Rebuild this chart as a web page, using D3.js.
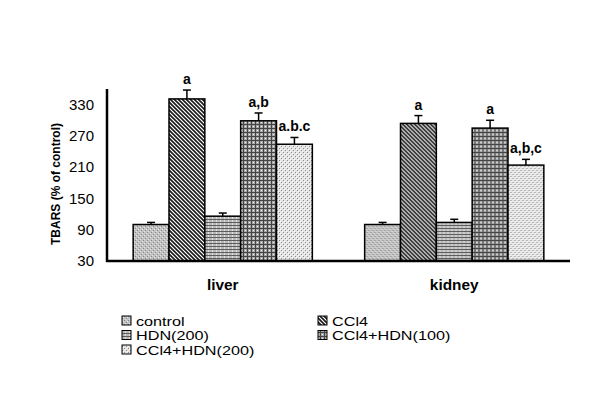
<!DOCTYPE html>
<html><head><meta charset="utf-8">
<script src="https://cdn.jsdelivr.net/npm/d3@7"></script>
<style>body{margin:0;background:#fff}svg{display:block;font-family:"Liberation Sans",Arial,sans-serif}</style>
</head><body>
<svg id="c" width="600" height="410"></svg>
<script>
const categories = ["liver", "kidney"];
const seriesNames = ["control", "CCl4", "HDN(200)", "CCl4+HDN(100)", "CCl4+HDN(200)"];
const liverValues = [100, 341, 116, 299, 254];
const liverErrors = [4, 17, 6, 15, 13];
const kidneyValues = [100, 294, 104, 285, 214];
const kidneyErrors = [4, 15, 6, 15, 11];
const liverLabels = ["", "a", "", "a,b", "a.b.c"];
const kidneyLabels = ["", "a", "", "a", "a,b,c"];
const yTicks = [30, 90, 150, 210, 270, 330];
const yTitle = "TBARS (% of control)";

const svg = d3.select("#c");
const defs = svg.append("defs");

function pat(id, w, h, bg, draw) {
  const p = defs.append("pattern").attr("id", id).attr("patternUnits", "userSpaceOnUse")
    .attr("width", w).attr("height", h);
  p.append("rect").attr("width", w).attr("height", h).attr("fill", bg);
  draw(p);
}
function px(p, x, yy, w, h, c) { p.append("rect").attr("x", x).attr("y", yy).attr("width", w).attr("height", h).attr("fill", c); }
pat("p0", 4, 4, "#c2c2c2", p => {
  px(p, 0, 0, 1, 1, "#888"); px(p, 2, 2, 1, 1, "#888");
  px(p, 1, 3, 1, 1, "#e6e6e6"); px(p, 3, 1, 1, 1, "#e6e6e6");
});
pat("p1", 4, 4, "#ffffff", p => {
  p.append("path").attr("d", "M-1,-1L5,5M-1,3L1,5M3,-1L5,1").attr("stroke", "#1a1a1a").attr("stroke-width", 1.6);
});
pat("p2", 4, 3, "#b8b8b8", p => {
  px(p, 0, 0, 4, 1, "#5e5e5e");
  px(p, 1, 1, 1, 2, "#e0e0e0");
});
pat("p3", 4, 4, "#a8a8a8", p => {
  px(p, 0, 0, 1, 4, "#444"); px(p, 0, 0, 4, 1, "#444");
  px(p, 2, 2, 1, 1, "#f0f0f0");
});
pat("p4", 4, 4, "#e4e4e4", p => {
  px(p, 0, 0, 1, 1, "#8c8c8c"); px(p, 2, 2, 1, 1, "#8c8c8c");
  px(p, 1, 1, 1, 1, "#fff"); px(p, 3, 3, 1, 1, "#fff");
});
const fills = ["url(#p0)", "url(#p1)", "url(#p2)", "url(#p3)", "url(#p4)"];

const y = d3.scaleLinear().domain([30, 360]).range([261, 89]);
const x0 = d3.scaleBand().domain(categories).range([107, 570]);
const x1 = d3.scaleBand().domain(seriesNames).range([0, x0.bandwidth()]).paddingOuter(0.73);

const data = [
  {cat: "liver", values: liverValues, errs: liverErrors, labels: liverLabels},
  {cat: "kidney", values: kidneyValues, errs: kidneyErrors, labels: kidneyLabels}
];

data.forEach(g => {
  const gg = svg.append("g").attr("transform", `translate(${x0(g.cat)},0)`);
  seriesNames.forEach((s, i) => {
    const v = g.values[i], e = g.errs[i];
    const cx = x1(s) + x1.bandwidth() / 2;
    gg.append("line").attr("x1", cx).attr("x2", cx).attr("y1", y(v)).attr("y2", y(v + e))
      .attr("stroke", "#000").attr("stroke-width", 1.5);
    gg.append("line").attr("x1", cx - 4).attr("x2", cx + 4).attr("y1", y(v + e)).attr("y2", y(v + e))
      .attr("stroke", "#000").attr("stroke-width", 1.5);
    gg.append("rect").attr("x", x1(s)).attr("y", y(v)).attr("width", x1.bandwidth())
      .attr("height", y(30) - y(v)).attr("fill", fills[i]).attr("stroke", "#000").attr("stroke-width", 1.5);
    if (g.labels[i]) {
      gg.append("text").attr("x", cx).attr("y", y(v + e) - 6).attr("text-anchor", "middle")
        .attr("font-size", 14).attr("font-weight", "bold").text(g.labels[i]);
    }
  });
  svg.append("text").attr("transform", `translate(${x0(g.cat) + x0.bandwidth() / 2},290) scale(1.1,1)`)
    .attr("text-anchor", "middle")
    .attr("font-size", 14).attr("font-weight", "bold").text(g.cat);
});

svg.append("line").attr("x1", 107).attr("x2", 107).attr("y1", y(360)).attr("y2", y(30) + 1)
  .attr("stroke", "#000").attr("stroke-width", 2.5);
svg.append("line").attr("x1", 106).attr("x2", 570).attr("y1", y(30)).attr("y2", y(30))
  .attr("stroke", "#000").attr("stroke-width", 2.5);

const yAxis = svg.append("g").attr("transform", "translate(107,0)")
  .call(d3.axisLeft(y).tickValues(yTicks).tickSize(0).tickPadding(13));
yAxis.select(".domain").remove();
yAxis.selectAll("text").attr("font-size", 15).attr("font-family", "'Liberation Sans',Arial,sans-serif").attr("fill", "#000");

svg.append("text").attr("transform", "translate(60,184) rotate(-90)").attr("text-anchor", "middle")
  .attr("font-size", 12).attr("font-weight", "bold").text(yTitle);

const legPos = [[122, 316], [318, 316], [122, 330.5], [318, 330.5], [122, 345]];
seriesNames.forEach((s, i) => {
  const [lx, ly] = legPos[i];
  svg.append("rect").attr("x", lx).attr("y", ly).attr("width", 9).attr("height", 9)
    .attr("fill", fills[i]).attr("stroke", "#000").attr("stroke-width", 1);
  svg.append("text").attr("transform", `translate(${lx + 14},${ly + 9.5}) scale(1.2,1)`)
    .attr("font-size", 13.5).text(s);
});
</script>
</body></html>
